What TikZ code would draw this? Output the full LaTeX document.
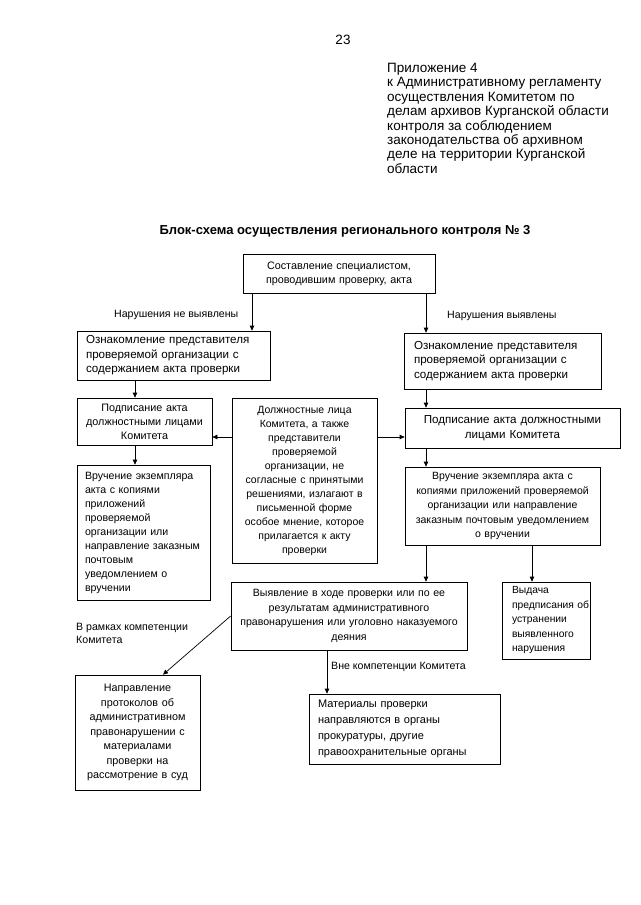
\documentclass[tikz,border=0pt]{standalone}
\usepackage{fontspec}
\setmainfont{Liberation Sans}
\usetikzlibrary{arrows.meta,calc}
\begin{document}
\begin{tikzpicture}[x=1pt,y=-1pt,
  bx/.style={draw, line width=0.7pt, inner xsep=9pt, inner ysep=2pt, font=\fontsize{10.8}{14}\selectfont},
  cbx/.style={bx, inner xsep=3pt, align=center},
  big/.style={font=\fontsize{11.6}{14.5}\selectfont},
  arr/.style={-{Triangle[length=5pt,width=4.5pt]}, line width=0.7pt},
  lbl/.style={font=\fontsize{10.6}{13}\selectfont, inner sep=0pt},
  hdr/.style={font=\fontsize{13.5}{14.4}\selectfont, inner sep=0pt}]
\useasboundingbox (0,0) rectangle (640,905);
% header
\node[hdr] (pg) at (343,40) {23};
\node[hdr, anchor=north west, align=left] (app) at (387,63) {Приложение 4\\
к Административному регламенту\\
осуществления Комитетом по\\
делам архивов Курганской области\\
контроля за соблюдением\\
законодательства об архивном\\
деле на территории Курганской\\
области};
\node[inner sep=0pt, font=\bfseries\fontsize{13}{15}\selectfont] (title) at (345,231) {Блок-схема осуществления регионального контроля № 3};
% boxes
\node[cbx, minimum width=192pt, minimum height=39pt, text width=186pt] (top) at (339,273.5) {Составление специалистом,\\ проводившим проверку, акта};
\node[bx, big, minimum width=193pt, minimum height=49pt, text width=175pt, align=left] (l1) at (173.5,355.5) {Ознакомление представителя\\ проверяемой организации с\\ содержанием акта проверки};
\node[bx, big, minimum width=197pt, minimum height=56pt, text width=177pt, inner xsep=10pt, align=left] (r1) at (502.5,361) {Ознакомление представителя\\ проверяемой организации с\\ содержанием акта проверки};
\node[cbx, minimum width=135pt, minimum height=47pt, text width=129pt] (l2) at (144.5,421.5) {Подписание акта\\ должностными лицами\\ Комитета};
\node[cbx, minimum width=145pt, minimum height=165pt, text width=139pt, font=\fontsize{10.5}{14}\selectfont] (mid) at (304.5,480.5) {Должностные лица\\ Комитета, а также\\ представители\\ проверяемой\\ организации, не\\ согласные с принятыми\\ решениями, излагают в\\ письменной форме\\ особое мнение, которое\\ прилагается к акту\\ проверки};
\node[cbx, big, minimum width=215pt, minimum height=40pt, text width=209pt] (r2) at (512.5,428) {Подписание акта должностными\\ лицами Комитета};
\node[bx, minimum width=133pt, minimum height=135pt, text width=121pt, inner xsep=6pt, align=left, font=\fontsize{10.6}{14}\selectfont] (l3) at (143.5,532.5) {\hspace*{2pt}Вручение экземпляра\\ \hspace*{2pt}акта с копиями\\ \hspace*{2pt}приложений\\ \hspace*{2pt}проверяемой\\ \hspace*{2pt}организации или\\ \hspace*{2pt}направление заказным\\ \hspace*{2pt}почтовым\\ \hspace*{2pt}уведомлением о\\ \hspace*{2pt}вручении};
\node[cbx, minimum width=195pt, minimum height=78pt, text width=189pt, font=\fontsize{10.5}{14.5}\selectfont] (r3) at (502.5,506) {Вручение экземпляра акта с\\ копиями приложений проверяемой\\ организации или направление\\ заказным почтовым уведомлением\\ о вручении};
\node[cbx, minimum width=236pt, minimum height=68pt, text width=230pt, font=\fontsize{10.6}{14.5}\selectfont] (vy) at (349,616) {Выявление в ходе проверки или по ее\\ результатам административного\\ правонарушения или уголовно наказуемого\\ деяния};
\node[bx, minimum width=88pt, minimum height=77pt, text width=68pt, inner xsep=10pt, align=left, font=\fontsize{10.3}{14.5}\selectfont] (vyd) at (546,620.5) {Выдача\\ предписания~об\\ устранении\\ выявленного\\ нарушения};
\node[cbx, minimum width=125pt, minimum height=115pt, text width=119pt, font=\fontsize{10.8}{14.5}\selectfont] (nap) at (137.5,732.5) {Направление\\ протоколов об\\ административном\\ правонарушении с\\ материалами\\ проверки на\\ рассмотрение в суд};
\node[bx, minimum width=191pt, minimum height=70pt, text width=177pt, inner xsep=7pt, align=left, font=\fontsize{11}{16}\selectfont] (mat) at (404.5,729) {\hspace*{2pt}Материалы проверки\\ \hspace*{2pt}направляются в органы\\ \hspace*{2pt}прокуратуры, другие\\ \hspace*{2pt}правоохранительные органы};
% labels
\node[lbl, anchor=west] (lab1) at (114,315) {Нарушения не выявлены};
\node[lbl, anchor=west] (lab2) at (447,316) {Нарушения выявлены};
\node[lbl, anchor=north west, align=left] (lab3) at (76,623) {В рамках компетенции\\ Комитета};
\node[lbl, anchor=west] (lab4) at (331,667) {Вне компетенции Комитета};
% connector guides
\coordinate (xa) at (252,0);
\coordinate (xb) at (426,0);
\coordinate (xc) at (135,0);
\coordinate (xd) at (532,0);
\coordinate (xe) at (327,0);
\coordinate (xf) at (163,0);
\coordinate (ya) at (0,437);
% connectors
\draw[arr] (top.south -| xa) -- (l1.north -| xa);
\draw[arr] (top.south -| xb) -- (r1.north -| xb);
\draw[arr] (l1.south -| xc) -- (l2.north -| xc);
\draw[arr] (l2.south -| xc) -- (l3.north -| xc);
\draw[arr] (r1.south -| xb) -- (r2.north -| xb);
\draw[arr] (r2.south -| xb) -- (r3.north -| xb);
\draw[arr] (mid.west |- ya) -- (l2.east |- ya);
\draw[arr] (mid.east |- ya) -- (r2.west |- ya);
\draw[arr] (r3.south -| xb) -- (vy.north -| xb);
\draw[arr] (r3.south -| xd) -- (vyd.north -| xd);
\draw[arr] (vy.west) -- (nap.north -| xf);
\draw[arr] (vy.south -| xe) -- (mat.north -| xe);
\end{tikzpicture}
\end{document}
